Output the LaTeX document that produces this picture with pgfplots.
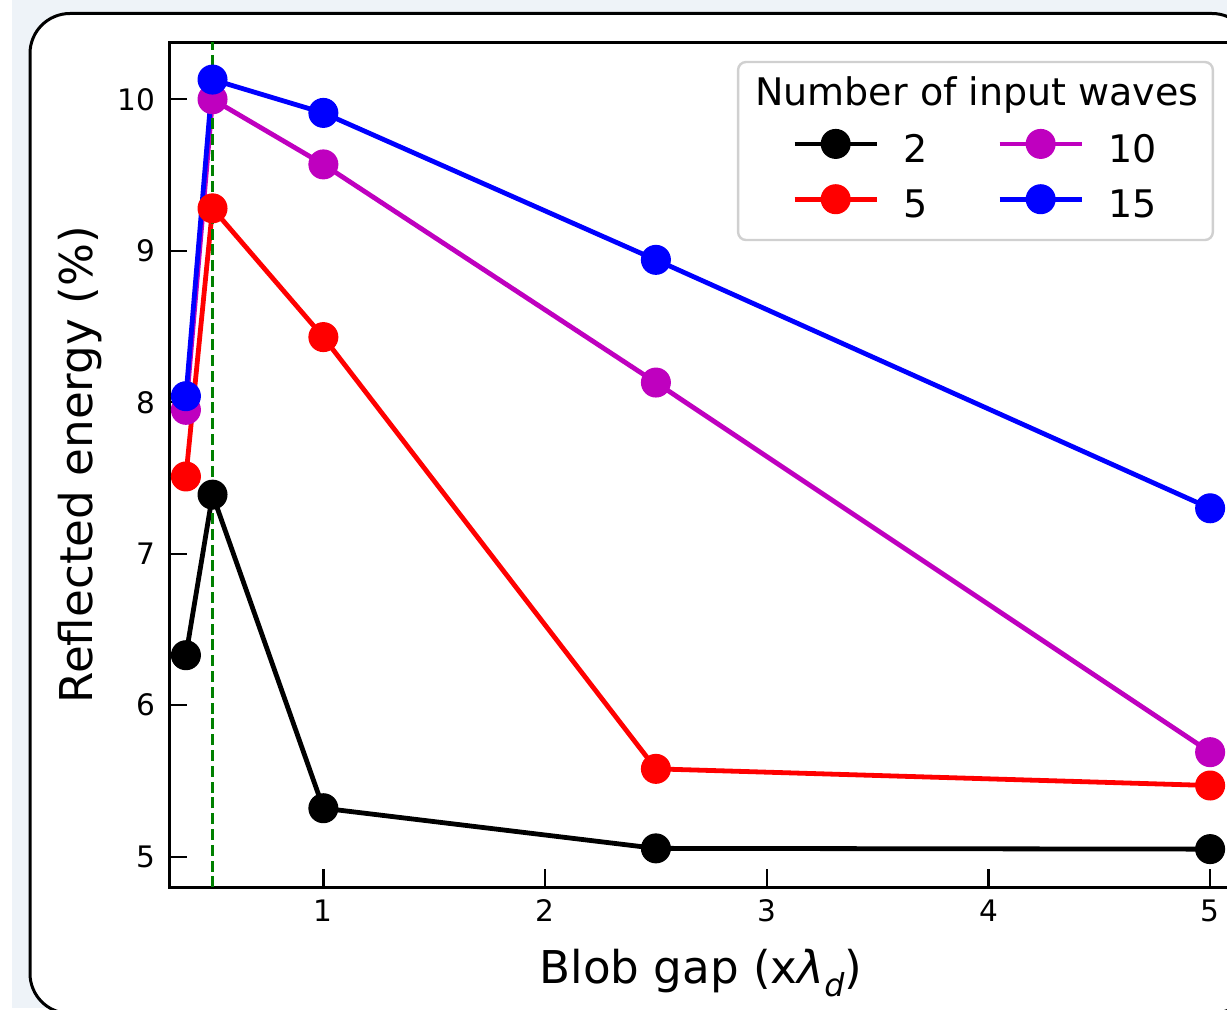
\documentclass[border=0pt]{standalone}
\usepackage{pgfplots}
\pgfplotsset{compat=1.18}
\usepackage{fontspec}
\setmainfont{DejaVu Sans}
\definecolor{bgblue}{HTML}{EEF3F8}
\definecolor{mplmag}{HTML}{BF00BF}
\definecolor{mplgreen}{HTML}{008000}
\definecolor{legedge}{HTML}{D0D0D0}
\begin{document}
\begin{tikzpicture}
\useasboundingbox (0,0) rectangle (613.5pt,504.5pt);
\clip (0,0) rectangle (613.5pt,504.5pt);
\begin{scope}[x=0.5pt,y=-0.5pt,shift={(0pt,504.5pt)}]
  \fill[white] (0,0) rectangle (1227,1009);
  \fill[bgblue] (12,0) rectangle (1227,1008);
  \draw[line width=1.5pt, fill=white, rounded corners=20pt] (30,13.5) rectangle (1252,1013.5);
\end{scope}
\begin{axis}[
  at={(84.65pt,60.85pt)}, anchor=south west,
  scale only axis, width=531.5pt, height=422.5pt,
  xmin=0.305, xmax=5.1, ymin=4.798, ymax=10.376,
  axis line style={line width=1.3pt},
  xtick={1,2,3,4,5}, ytick={5,6,7,8,9,10},
  tick align=inside, xtick pos=lower, ytick pos=left,
  major tick length=9pt,
  every tick/.style={black, line width=1.2pt},
  ticklabel style={font=\fontsize{14.8pt}{17pt}\selectfont},
  xticklabel style={yshift=-2.6pt},
  yticklabel style={xshift=-3.3pt},
  /pgf/number format/assume math mode=true,
  xlabel={Blob gap (x\textit{λ}\raisebox{-0.3em}{\fontsize{15.8pt}{18pt}\selectfont\itshape d})},
  ylabel={Reflected energy (\%)},
  label style={font=\fontsize{22.6pt}{26pt}\selectfont},
  xlabel style={at={(axis description cs:0.5,-0.1133)}, anchor=base},
  ylabel style={at={(axis description cs:-0.0727,0.5)}, anchor=base},
  clip=false,
  legend columns=2, transpose legend,
  legend style={at={(axis description cs:0.5857,0.8428)}, anchor=west,
    draw=none, fill=none, inner sep=0pt,
    font=\fontsize{19pt}{22pt}\selectfont,
    nodes={inner sep=0pt}, row sep=9.55pt,
    /tikz/every odd column/.append style={column sep=12pt},
    /tikz/every even column/.append style={column sep=35pt}},
  legend image code/.code={\draw[mark repeat=2,mark phase=2,yshift=3.1pt,#1] plot coordinates {(0pt,0pt) (20.5pt,0pt) (41pt,0pt)};},
]
\draw[legedge, line width=1.2pt, fill=white, fill opacity=0.8, rounded corners=4pt]
  (axis description cs:0.5351,0.7660) rectangle (axis description cs:0.9817,0.9767);
\node[font=\fontsize{19pt}{22pt}\selectfont, anchor=base] at (axis description cs:0.7598,0.9258) {Number of input waves};

\addplot[black, line width=2.4pt, mark=*, mark size=7.2pt, mark options={line width=0.6pt}]
  coordinates {(0.38,6.33) (0.5,7.39) (1,5.32) (2.5,5.055) (5,5.05)};
\addplot[red, line width=2.4pt, mark=*, mark size=7.2pt, mark options={line width=0.6pt}]
  coordinates {(0.38,7.51) (0.5,9.28) (1,8.43) (2.5,5.58) (5,5.47)};
\addplot[mplmag, line width=2.4pt, mark=*, mark size=7.2pt, mark options={line width=0.6pt}]
  coordinates {(0.38,7.95) (0.5,10.0) (1,9.57) (2.5,8.13) (5,5.69)};
\addplot[blue, line width=2.4pt, mark=*, mark size=7.2pt, mark options={line width=0.6pt}]
  coordinates {(0.38,8.04) (0.5,10.13) (1,9.91) (2.5,8.94) (5,7.30)};
\addplot[mplgreen, line width=1.5pt, dash pattern=on 5.5pt off 2.4pt, forget plot]
  coordinates {(0.5,4.798) (0.5,10.376)};
\legend{2,5,10,15}
\end{axis}
\end{tikzpicture}
\end{document}
